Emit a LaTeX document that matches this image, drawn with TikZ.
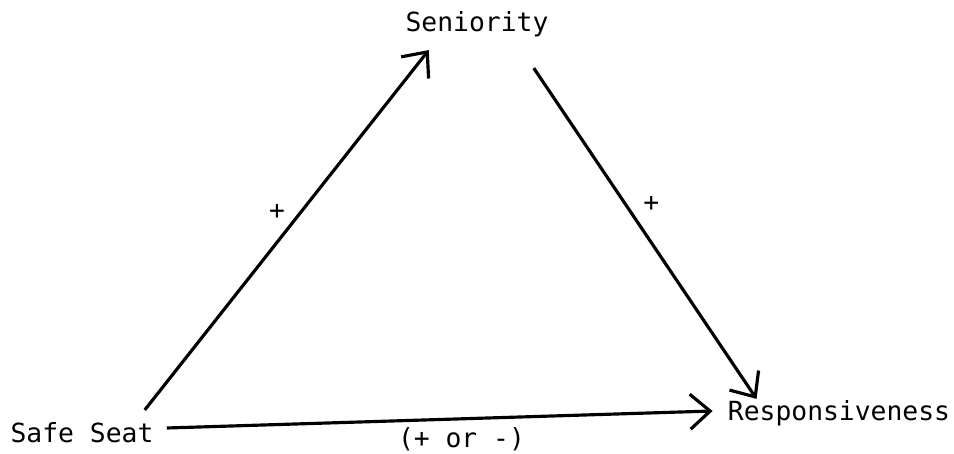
\documentclass[tikz,border=0pt]{standalone}
\usepackage{fontspec}
\setmonofont{DejaVu Sans Mono}
\usetikzlibrary{positioning, arrows.meta, calc}

\begin{document}
\begin{tikzpicture}[
      begriff/.style={inner sep=0pt, font=\ttfamily\fontsize{15}{18}\selectfont},
      zeichen/.style={inner sep=1pt, font=\ttfamily\fontsize{15}{18}\selectfont},
      pfeil/.style={-{Straight Barb[length=4mm, width=7mm, line width=1.8pt]}, line width=1.8pt}]
    \useasboundingbox (0,0) rectangle (19.08,9.06);
    \node[begriff] (safe) at (1.64,0.40) {Safe Seat};
    \node[begriff] (senior) at (9.54,8.58) {Seniority};
    \node[begriff] (resp) at (16.78,0.80) {Responsiveness};
    \draw[pfeil] ([shift={(-0.18,0.25)}]safe.north east) --
      node[zeichen, pos=0.55, left=0.25cm] {+} ([shift={(0.47,-0.26)}]senior.south west);
    \draw[pfeil] ([shift={(-0.3,-0.62)}]senior.south east) --
      node[zeichen, pos=0.41, right=0.3cm] {+} ([shift={(0.58,0.02)}]resp.north west);
    \draw[pfeil] ([shift={(0.26,0.1)}]safe.east) --
      node[zeichen, pos=0.54, below=0.1cm] {(+ or -)} ([shift={(-0.3,0.04)}]resp.west);
  \end{tikzpicture}
\end{document}
